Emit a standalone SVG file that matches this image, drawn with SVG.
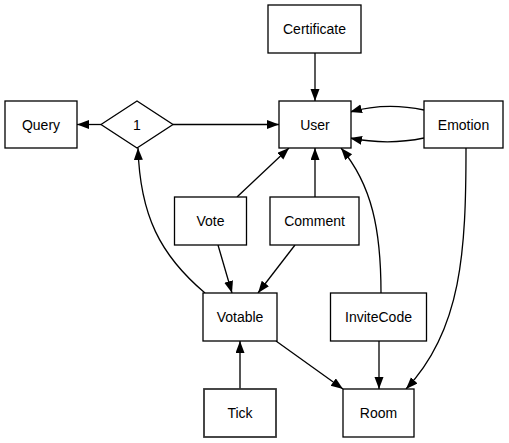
<svg xmlns="http://www.w3.org/2000/svg" width="509" height="443" viewBox="0 0 509 443">
<style>
.n rect,.n polygon{fill:#fff;stroke:#000;stroke-width:1.3}
.n text{font-family:"Liberation Sans",Arial,sans-serif;font-size:14px;text-anchor:middle;fill:#000}
.e path{fill:none;stroke:#000;stroke-width:1.3}
</style>
<defs>
<marker id="a" markerUnits="userSpaceOnUse" markerWidth="13" markerHeight="10" refX="12" refY="4.5" orient="auto"><path d="M0,0 L12,4.5 L0,9 z" fill="#000"/></marker>
</defs>
<rect width="509" height="443" fill="#fff"/>
<g class="e">
<path d="M315,53 L315,101" marker-end="url(#a)"/>
<path d="M101,124.5 L77,124.5" marker-end="url(#a)"/>
<path d="M173,124.5 L279,124.5" marker-end="url(#a)"/>
<path d="M424,110 C400,105 375,105 350,112" marker-end="url(#a)"/>
<path d="M424,138 C400,143 375,143 350,138" marker-end="url(#a)"/>
<path d="M237,197 L289,148" marker-end="url(#a)"/>
<path d="M315,197 L315,148" marker-end="url(#a)"/>
<path d="M381,293 C381,230 372,185 341,148" marker-end="url(#a)"/>
<path d="M205,293 C160,255 140,215 138,148" marker-end="url(#a)"/>
<path d="M218,245 L232,293" marker-end="url(#a)"/>
<path d="M295,245 L258,293" marker-end="url(#a)"/>
<path d="M276,341 L343,389" marker-end="url(#a)"/>
<path d="M379,341 L379,389" marker-end="url(#a)"/>
<path d="M466,148 C466,250 462,330 406,389" marker-end="url(#a)"/>
<path d="M240,389 L240,341" style="stroke:#555;stroke-width:2" marker-end="url(#a)"/>
</g>
<g id="Certificate" class="n"><rect x="268" y="5" width="93" height="48"/><text x="314.5" y="34">Certificate</text></g>
<g id="User" class="n"><rect x="279" y="101" width="72" height="47"/><text x="315" y="129.5">User</text></g>
<g id="Emotion" class="n"><rect x="424" y="101" width="79" height="47"/><text x="463.5" y="129.5">Emotion</text></g>
<g id="Query" class="n"><rect x="5" y="101" width="72" height="47"/><text x="41" y="129.5">Query</text></g>
<g id="d1" class="n"><polygon points="101,124.5 137,101 173,124.5 137,148"/><text x="137" y="129.5">1</text></g>
<g id="Vote" class="n"><rect x="174.5" y="197" width="72" height="48"/><text x="210.5" y="225.5">Vote</text></g>
<g id="Comment" class="n"><rect x="270" y="197" width="89" height="48"/><text x="314.5" y="225.5">Comment</text></g>
<g id="Votable" class="n"><rect x="203" y="293" width="74" height="48"/><text x="240" y="321.5">Votable</text></g>
<g id="InviteCode" class="n"><rect x="330.5" y="293" width="96" height="48"/><text x="378.5" y="321.5">InviteCode</text></g>
<g id="Tick" class="n"><rect x="204" y="389" width="72" height="48" style="stroke:#333;stroke-width:1.8"/><text x="240" y="417.5">Tick</text></g>
<g id="Room" class="n"><rect x="343" y="389" width="71" height="48"/><text x="378.5" y="417.5">Room</text></g>
</svg>
